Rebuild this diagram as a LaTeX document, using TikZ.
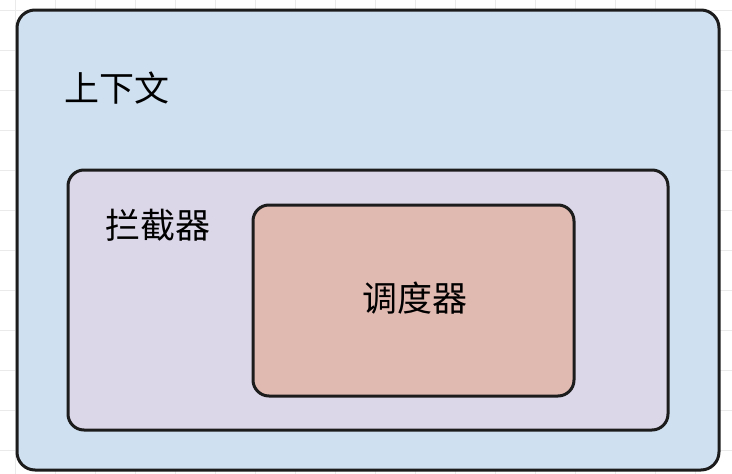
\documentclass[tikz,border=0pt]{standalone}
\usepackage{fontspec}
\newfontfamily\cjk{Noto Sans CJK SC}
\definecolor{outerfill}{HTML}{CFE0F1}
\definecolor{midfill}{HTML}{DCD6E9}
\definecolor{innerfill}{HTML}{E0B9B1}
\definecolor{edge}{HTML}{1C1C1C}
\definecolor{gridc}{HTML}{EAEAEA}
\tikzset{
  box/.style={draw=edge, line width=3pt, rounded corners=16pt},
  lbl/.style={font=\cjk\fontsize{35}{40}\selectfont, text=black, inner sep=0pt}
}
\begin{document}
\begin{tikzpicture}[x=1pt,y=-1pt]
\useasboundingbox (0,0) rectangle (732,474);
\fill[white] (0,0) rectangle (732,474);
\foreach \x in {15,55,...,735} \draw[gridc, line width=0.8pt] (\x,0) -- (\x,474);
\foreach \y in {10,50,...,474} \draw[gridc, line width=0.8pt] (0,\y) -- (732,\y);
\draw[box, fill=outerfill, rounded corners=18pt] (17,10) rectangle (719,470);
\draw[box, fill=midfill] (68,170) rectangle (668,430);
\draw[box, fill=innerfill] (253,205) rectangle (574,396);
\node[lbl] (ctx) at (117,88) {上下文};
\node[lbl] (icp) at (158,225) {拦截器};
\node[lbl] (sch) at (415,298) {调度器};
\end{tikzpicture}
\end{document}
